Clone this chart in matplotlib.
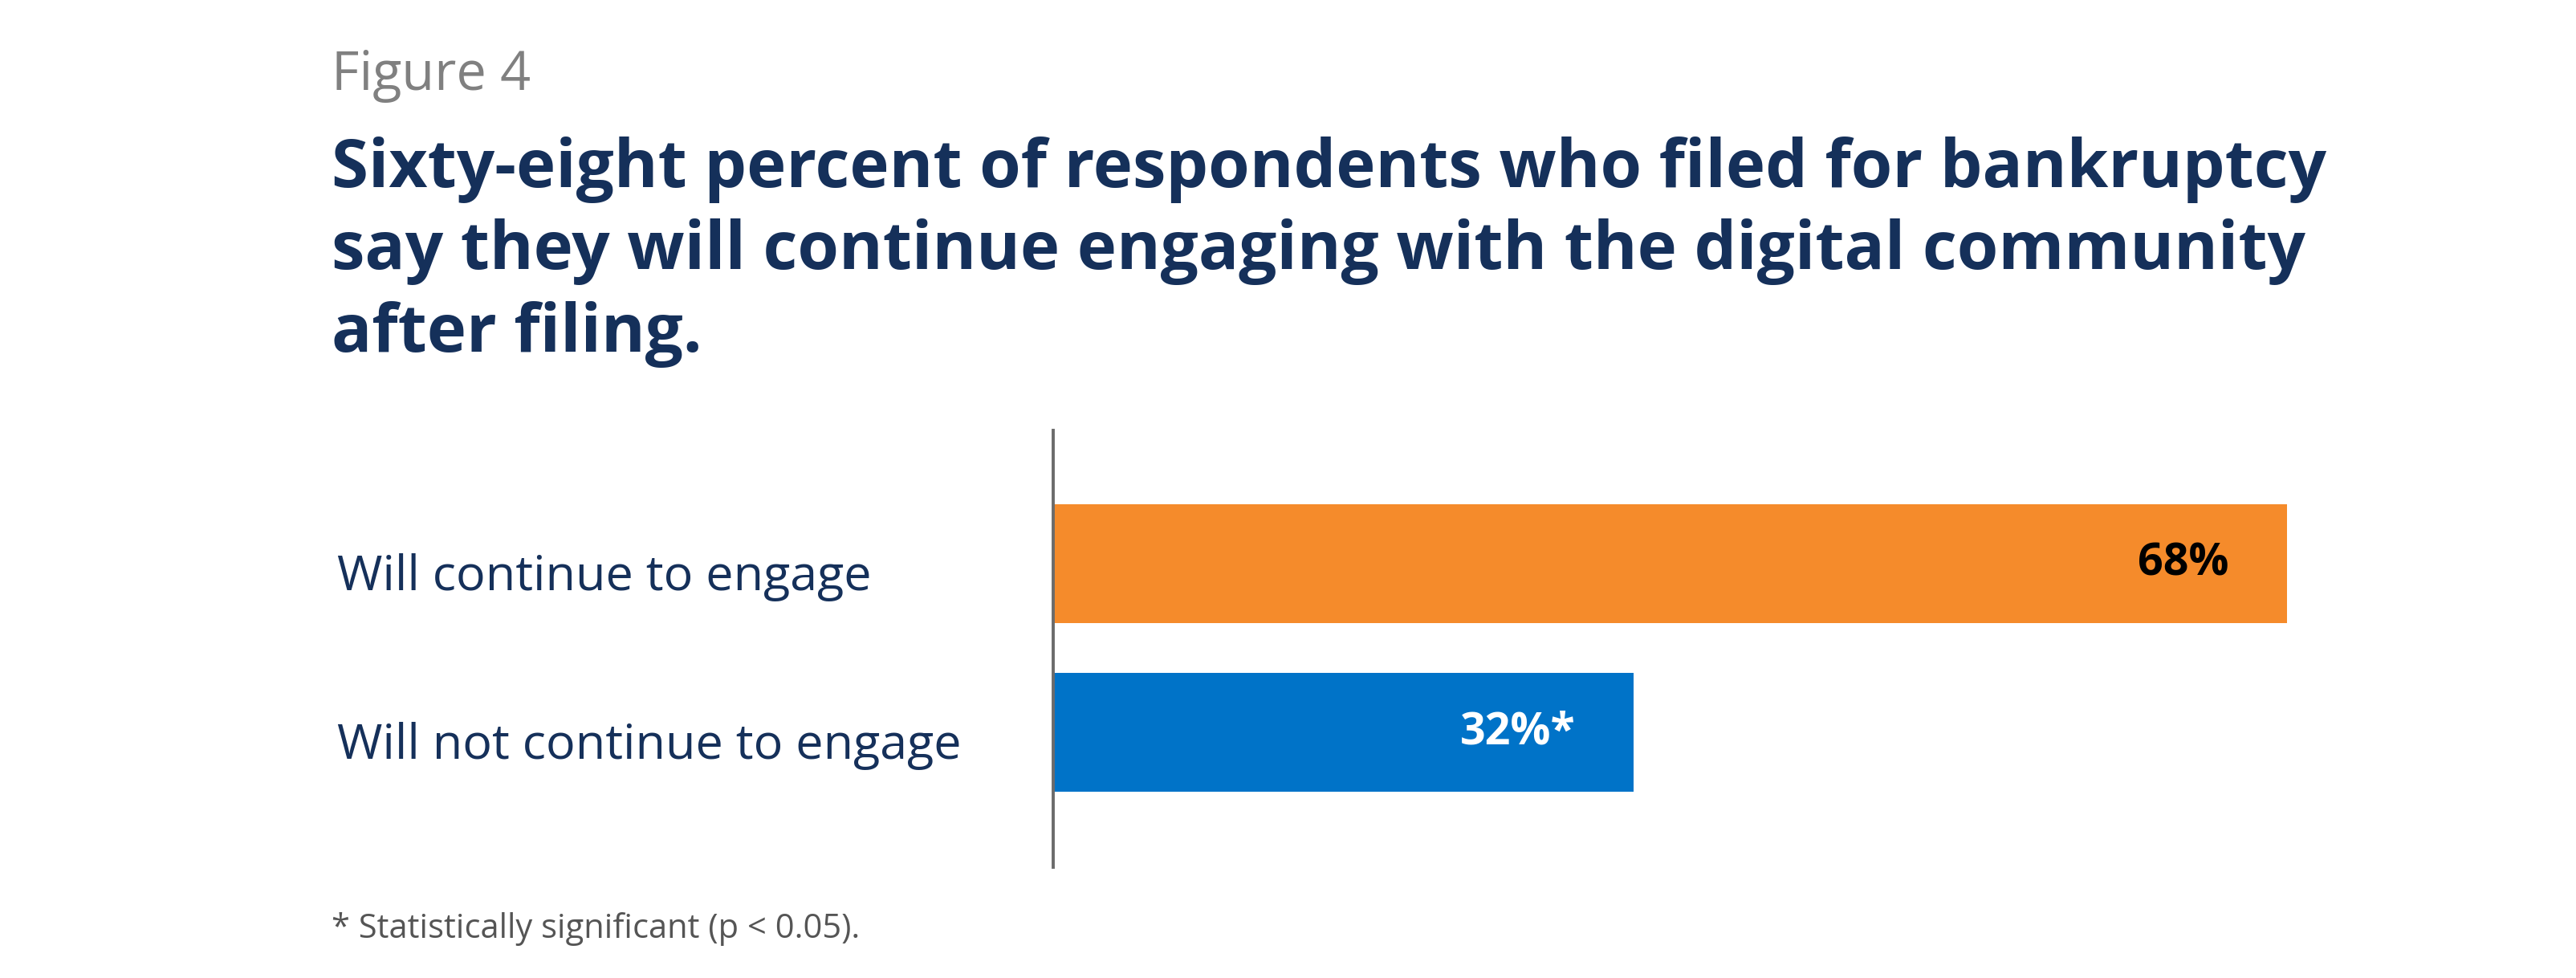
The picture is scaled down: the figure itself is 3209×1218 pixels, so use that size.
import matplotlib.pyplot as plt
import matplotlib.transforms as mtransforms

categories = ['Will continue to engage', 'Will not continue to engage']
values = [68, 32]
value_labels = ['68%', '32%*']
bar_colors = ['#F58B2B', '#0073C8']
label_colors = ['#000000', '#FFFFFF']

navy = '#15305A'
plt.rcParams['font.family'] = ['Open Sans', 'DejaVu Sans']

fig = plt.figure(figsize=(32.09, 12.18), dpi=100)
fig.patch.set_facecolor('white')

# titles
fig.text(413 / 3209, 1 - 112 / 1218, 'Figure 4', fontsize=48, color='#808080',
         ha='left', va='baseline')
title = ('Sixty-eight percent of respondents who filed for bankruptcy\n'
         'say they will continue engaging with the digital community\n'
         'after filing.')
fig.text(413 / 3209, 1 - 438 / 1218, title, fontsize=60, fontweight='bold',
         color=navy, ha='left', va='baseline', linespacing=1.31)

# bar chart area
ax = fig.add_axes([1312 / 3209, 138 / 1218, 2260 / 3209, 544 / 1218])
ypos = list(range(len(categories)))
ax.barh(ypos, values, height=0.705, color=bar_colors)
ax.set_ylim(1.8, -0.79)
ax.set_xlim(0, 100)

for y, v, lab, c in zip(ypos, values, value_labels, label_colors):
    ax.text(v - 3.2, y, lab, ha='right', va='center', fontsize=40,
            fontweight='bold', color=c)

# category labels, a bit below bar centre like the original
ax.set_yticks([])
lab_tr = mtransforms.offset_copy(ax.get_yaxis_transform(), fig=fig,
                                 x=0, y=-7, units='points')
for y, cat in zip(ypos, categories):
    ax.text(-892 / 2260, y, cat, transform=lab_tr, ha='left',
            va='center_baseline', fontsize=44, color=navy)

ax.set_xticks([])
for s in ['top', 'right', 'bottom']:
    ax.spines[s].set_visible(False)
ax.spines['left'].set_color('#6b6b6b')
ax.spines['left'].set_linewidth(2.8)

# footnote
fig.text(413 / 3209, 1 - 1168 / 1218, '* Statistically significant (p < 0.05).',
         fontsize=30, color='#555555', ha='left', va='baseline')

fig.savefig('out.png', dpi=100, facecolor='white')
